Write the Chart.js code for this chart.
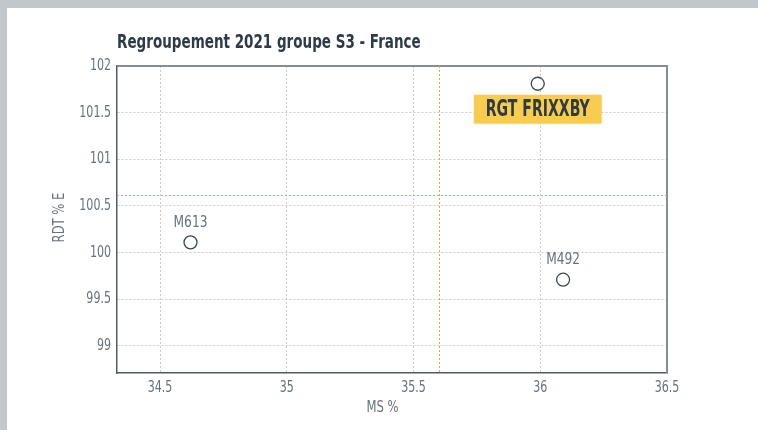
<!DOCTYPE html>
<html>
<head>
<meta charset="utf-8">
<script src="https://cdn.jsdelivr.net/npm/chart.js@4.4.1/dist/chart.umd.min.js"></script>
<style>
  html, body { margin: 0; padding: 0; }
  body { width: 758px; height: 430px; background: #c2c7cb; position: relative; overflow: hidden; }
  #wrap { position: absolute; left: 7px; top: 8px; width: 751px; height: 422px; background: #fff; }
</style>
</head>
<body>
<div id="wrap"><canvas id="chart"></canvas></div>
<script>
// data
const names = ['RGT FRIXXBY', 'M613', 'M492'];
const msValues = [35.99, 34.62, 36.09];   // MS %
const rdtValues = [101.81, 100.11, 99.71]; // RDT % E
const highlighted = 'RGT FRIXXBY';

const xTicks = [34.5, 35, 35.5, 36, 36.5];
const yTicks = [99, 99.5, 100, 100.5, 101, 101.5, 102];

// reference (average) lines
const refMs = 35.6;
const refRdt = 100.62;

const FONT = "'DejaVu Sans Condensed', 'DejaVu Sans', sans-serif";
const DARK = '#2c3b47';
const GREY_TEXT = '#67727c';
const ORANGE = '#f0a428';

// draw condensed text (the original uses a narrow face we don't have)
function narrowText(ctx, text, x, y, sx, align) {
  ctx.save();
  ctx.translate(x, y);
  ctx.scale(sx, 1);
  ctx.textAlign = align || 'center';
  ctx.fillText(text, 0, 0);
  ctx.restore();
}

const decorPlugin = {
  id: 'decor',
  beforeDatasetsDraw(chart) {
    const { ctx, chartArea: a, scales: { x, y } } = chart;
    ctx.save();
    // frame top + right
    ctx.strokeStyle = '#848e96';
    ctx.lineWidth = 2;
    ctx.beginPath();
    ctx.moveTo(a.left, a.top);
    ctx.lineTo(a.right, a.top);
    ctx.lineTo(a.right, a.bottom);
    ctx.stroke();

    // orange reference lines, dotted
    ctx.fillStyle = ORANGE;
    const rx = Math.round(x.getPixelForValue(refMs));
    const ry = Math.round(y.getPixelForValue(refRdt));
    for (let py = a.top; py < a.bottom; py += 4) ctx.fillRect(rx, py, 1, 2);
    for (let px = a.left; px < a.right + 2; px += 4) ctx.fillRect(px, ry, 2, 1);
    ctx.restore();
  },
  afterDatasetsDraw(chart) {
    const { ctx, chartArea: a, scales: { x, y } } = chart;
    ctx.save();
    ctx.textBaseline = 'middle';

    // tick labels
    ctx.font = '15px ' + FONT;
    ctx.fillStyle = GREY_TEXT;
    x.ticks.forEach(t => narrowText(ctx, String(t.value), x.getPixelForValue(t.value), a.bottom + 15, 0.82));
    y.ticks.forEach(t => narrowText(ctx, String(t.value), a.left - 6, y.getPixelForValue(t.value), 0.82, 'right'));

    // point labels
    names.forEach((n, i) => {
      const px = x.getPixelForValue(msValues[i]);
      const py = y.getPixelForValue(rdtValues[i]);
      if (n === highlighted) {
        const w = 128, h = 29;
        ctx.fillStyle = '#f9cb4f';
        ctx.fillRect(px - w / 2, py + 11, w, h);
        ctx.fillStyle = DARK;
        ctx.font = 'bold 23px ' + FONT;
        narrowText(ctx, n, px, py + 26, 0.68);
      } else {
        ctx.font = '16px ' + FONT;
        ctx.fillStyle = GREY_TEXT;
        narrowText(ctx, n, px, py - 20, 0.85);
      }
    });

    // axis titles
    ctx.font = '15px ' + FONT;
    ctx.fillStyle = GREY_TEXT;
    narrowText(ctx, 'MS %', chart.width / 2, 400, 0.86);
    ctx.save();
    ctx.translate(53, (a.top + a.bottom) / 2 - 2);
    ctx.rotate(-Math.PI / 2);
    narrowText(ctx, 'RDT % E', 0, 0, 0.86);
    ctx.restore();

    // chart title
    ctx.textBaseline = 'alphabetic';
    ctx.font = 'bold 19.5px ' + FONT;
    ctx.fillStyle = DARK;
    narrowText(ctx, 'Regroupement 2021 groupe S3 - France', a.left, 40, 0.77, 'left');
    ctx.restore();
  }
};

const points = names.map((n, i) => ({ x: msValues[i], y: rdtValues[i], name: n }));

new Chart(document.getElementById('chart'), {
  type: 'scatter',
  data: {
    datasets: [{
      data: points,
      pointRadius: 6.5,
      pointHoverRadius: 6.5,
      pointBorderWidth: 1.3,
      pointBorderColor: '#3a4651',
      pointBackgroundColor: '#ffffff'
    }]
  },
  options: {
    responsive: true,
    maintainAspectRatio: false,
    animation: false,
    layout: { padding: { top: 58, right: 91, bottom: 0, left: 0 } },
    plugins: { legend: { display: false }, tooltip: { enabled: false } },
    scales: {
      x: {
        type: 'linear',
        min: 34.33,
        max: 36.5,
        afterBuildTicks: s => { s.ticks = xTicks.map(v => ({ value: v })); },
        afterFit: s => { s.height = 57; },
        grid: { color: '#cbcbcb', drawTicks: false },
        border: { color: '#4e5a65', width: 1.5, dash: [2, 2] },
        ticks: { display: false }
      },
      y: {
        type: 'linear',
        min: 98.71,
        max: 102,
        afterBuildTicks: s => { s.ticks = yTicks.map(v => ({ value: v })); },
        afterFit: s => { s.width = 110; },
        grid: { color: '#cbcbcb', drawTicks: false },
        border: { color: '#4e5a65', width: 1.5, dash: [2, 2] },
        ticks: { display: false }
      }
    }
  },
  plugins: [decorPlugin]
});
</script>
</body>
</html>
